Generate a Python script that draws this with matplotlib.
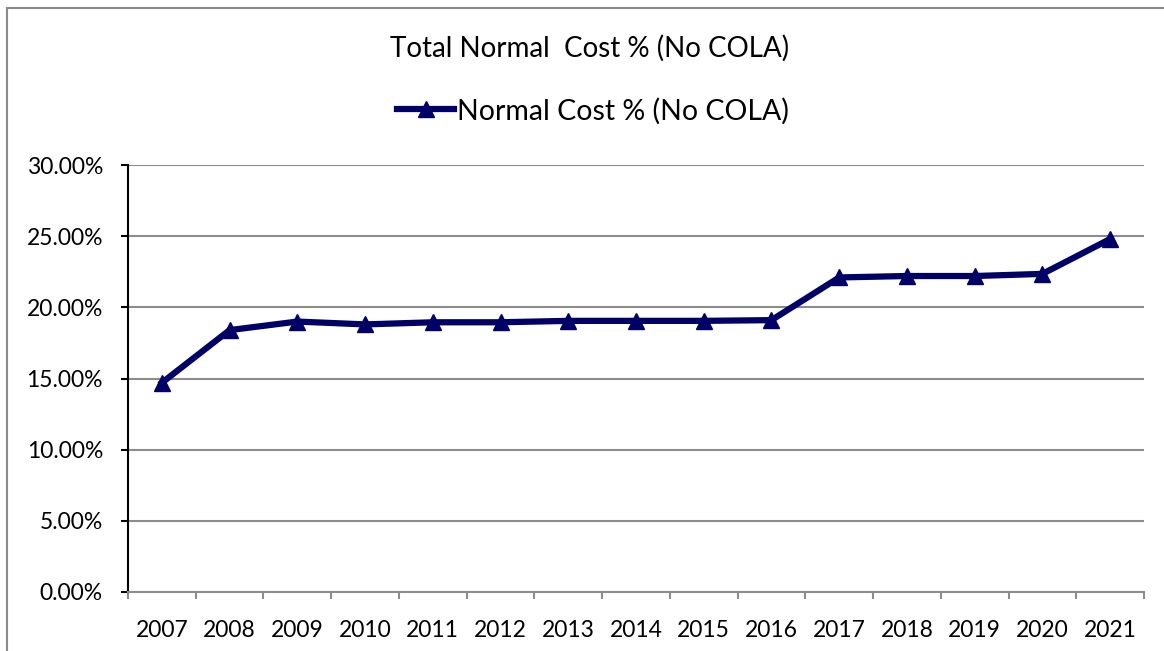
import matplotlib.pyplot as plt
from matplotlib.patches import Rectangle
from matplotlib.ticker import FuncFormatter, FixedLocator

years = ["2007", "2008", "2009", "2010", "2011", "2012", "2013", "2014",
         "2015", "2016", "2017", "2018", "2019", "2020", "2021"]
normal_cost = [14.7, 18.4, 19.0, 18.8, 18.95, 18.95, 19.05, 19.05,
               19.05, 19.1, 22.1, 22.2, 22.2, 22.35, 24.8]

plt.rcParams.update({
    "font.family": ["Lato", "DejaVu Sans"],
    "font.size": 16.5,
})

NAVY = "#000066"
GRID = "#8c8c8c"

fig = plt.figure(figsize=(11.64, 6.51), dpi=100)
ax = fig.add_axes([128 / 1164, 1 - 592 / 651, (1144 - 128) / 1164, (592 - 165) / 651])

x = list(range(len(years)))
ax.plot(x, normal_cost, color=NAVY, lw=4.5, marker="^", markersize=12,
        label="Normal Cost % (No COLA)", solid_joinstyle="round")

ax.set_xlim(-0.5, len(years) - 0.5)
ax.set_ylim(0, 30)
ax.set_yticks(range(0, 31, 5))
ax.yaxis.set_major_formatter(FuncFormatter(lambda v, _: f"{v:.2f}%"))
ax.yaxis.grid(True, color=GRID, lw=1.5)
ax.set_axisbelow(True)

ax.set_xticks(x)
ax.set_xticklabels(years)
ax.xaxis.set_minor_locator(FixedLocator([i - 0.5 for i in range(len(years) + 1)]))
ax.tick_params(axis="x", which="major", length=0, pad=20, labelsize=16.5)
ax.tick_params(axis="x", which="minor", length=5, color=GRID, width=1.5)
ax.tick_params(axis="y", length=5, width=1.5, color="black", pad=13, labelsize=16.5)

for side in ("top", "right"):
    ax.spines[side].set_visible(False)
ax.spines["left"].set_color("black")
ax.spines["left"].set_linewidth(1.5)
ax.spines["bottom"].set_color(GRID)
ax.spines["bottom"].set_linewidth(1.5)

fig.text(590 / 1164, 1 - 48 / 651, "Total Normal  Cost % (No COLA)",
         ha="center", va="center", fontsize=20)
fig.legend(loc="center", bbox_to_anchor=(593 / 1164, 1 - 111 / 651),
           frameon=False, fontsize=20.5, handlelength=2.0, handletextpad=0.1,
           borderaxespad=0)

# outer chart border
fig.add_artist(Rectangle((7 / 1164, -0.05), 1.2, 1 - 8 / 651 + 0.05,
                         transform=fig.transFigure, fill=False,
                         edgecolor="#8a8a8a", lw=1.5))

fig.savefig("out.png", dpi=100)
